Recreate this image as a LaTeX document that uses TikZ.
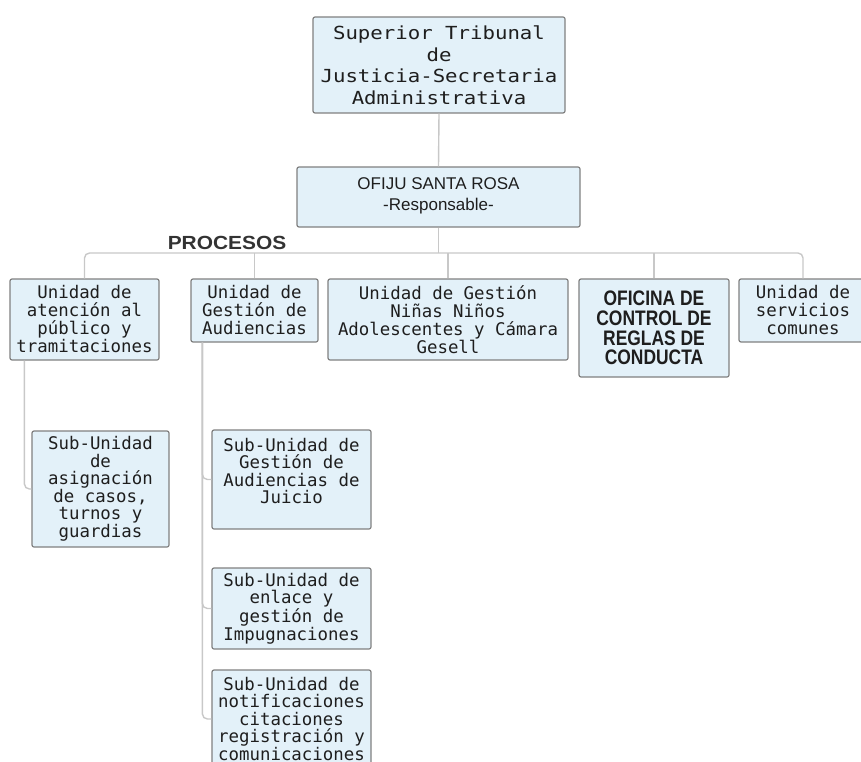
\documentclass[tikz,border=0pt]{standalone}
\usepackage{fontspec}
\setmainfont{Liberation Sans}
\newfontfamily\orgmono{DejaVu Sans Mono}
\newfontfamily\orgmonowide[FakeStretch=1.15]{DejaVu Sans Mono}
\newfontfamily\orgnarrow[FakeStretch=0.83]{Liberation Sans}
\newfontfamily\orgwide[FakeStretch=1.1]{Liberation Sans}
\definecolor{boxfill}{HTML}{E3F1F9}
\definecolor{boxline}{HTML}{808080}
\definecolor{linkgray}{HTML}{C8C8C8}
\definecolor{textdark}{HTML}{1E1E1E}
\tikzset{
  orgbox/.style={draw=boxline, fill=boxfill, line width=1.2pt, rounded corners=2pt,
    inner sep=0pt, align=center, text=textdark},
  headbox/.style={orgbox, font=\orgmonowide\fontsize{18}{21.5}\selectfont},
  respbox/.style={orgbox, font=\fontsize{17}{20}\selectfont},
  unitbox/.style={orgbox, font=\orgmono\fontsize{17.4}{18}\selectfont},
  subbox/.style={orgbox, font=\orgmono\fontsize{17.4}{17.5}\selectfont},
  officebox/.style={orgbox, font=\orgnarrow\bfseries\fontsize{21}{19.6}\selectfont},
  link/.style={draw=linkgray, line width=1.4pt, rounded corners=5pt}
}
\begin{document}
\begin{tikzpicture}[x=1pt, y=-1pt]
\useasboundingbox (0,0) rectangle (861,762);
\clip (0,0) rectangle (861,762);
% top of the chart
\node[headbox, minimum width=252pt, minimum height=96pt] (stj) at (439,65)
  {Superior Tribunal\\de\\Justicia-Secretaria\\Administrativa};
\node[respbox, minimum width=283pt, minimum height=60pt] (ofiju) at (438.5,197)
  {OFIJU SANTA ROSA\\[1pt]-Responsable-\\[-14pt]\mbox{}};
\node[font=\orgwide\bfseries\fontsize{19}{19}\selectfont, text=black!80, inner sep=0pt] (procesos) at (227,243) {PROCESOS};
\coordinate (bus) at (438.5,253);
% units
\node[unitbox, minimum width=149pt, minimum height=81pt] (atencion) at (84.5,319.5)
  {Unidad de\\atención al\\público y\\tramitaciones};
\node[unitbox, minimum width=127pt, minimum height=63pt] (audiencias) at (254.5,310.5)
  {Unidad de\\Gestión de\\Audiencias};
\node[unitbox, minimum width=240pt, minimum height=81pt] (ninos) at (448,319.5)
  {Unidad de Gestión\\Niñas Niños\\Adolescentes y Cámara\\Gesell};
\node[officebox, minimum width=150pt, minimum height=98pt] (reglas) at (654,328)
  {OFICINA DE\\CONTROL DE\\REGLAS DE\\CONDUCTA};
\node[unitbox, minimum width=128pt, minimum height=63pt] (comunes) at (803,310.5)
  {Unidad de\\servicios\\comunes};
% sub-units
\node[subbox, minimum width=137pt, minimum height=116pt] (asignacion) at (100.5,489)
  {Sub-Unidad\\de\\asignación\\de casos,\\turnos y\\guardias};
\node[subbox, minimum width=159pt, minimum height=99pt] (juicio) at (291.5,479.5)
  {Sub-Unidad de\\Gestión de\\Audiencias de\\Juicio\\\mbox{}};
\node[subbox, minimum width=159pt, minimum height=81pt] (impugnaciones) at (291.5,608.5)
  {Sub-Unidad de\\enlace y\\gestión de\\Impugnaciones};
\node[subbox, minimum width=159pt, minimum height=98pt] (notificaciones) at (291.5,719)
  {Sub-Unidad de\\notificaciones\\citaciones\\registración y\\comunicaciones};
% connectors
\begin{scope}[on background layer/.try]
\draw[link] (stj.south) -- (ofiju.north);
\draw[link] (ofiju.south) -- (bus);
\draw[link] (atencion.north) |- (bus) -| (comunes.north);
\draw[link] (audiencias.north) -- (audiencias.north |- bus);
\draw[link] (ninos.north) -- (ninos.north |- bus);
\draw[link] (reglas.north) -- (reglas.north |- bus);
\draw[link] ([xshift=15pt]atencion.south west) |- (asignacion.west);
\draw[link] ([xshift=12pt]audiencias.south west) |- (juicio.west);
\draw[link] ([xshift=12pt]audiencias.south west) |- (impugnaciones.west);
\draw[link] ([xshift=12pt]audiencias.south west) |- (notificaciones.west);
\end{scope}
\end{tikzpicture}
\end{document}
